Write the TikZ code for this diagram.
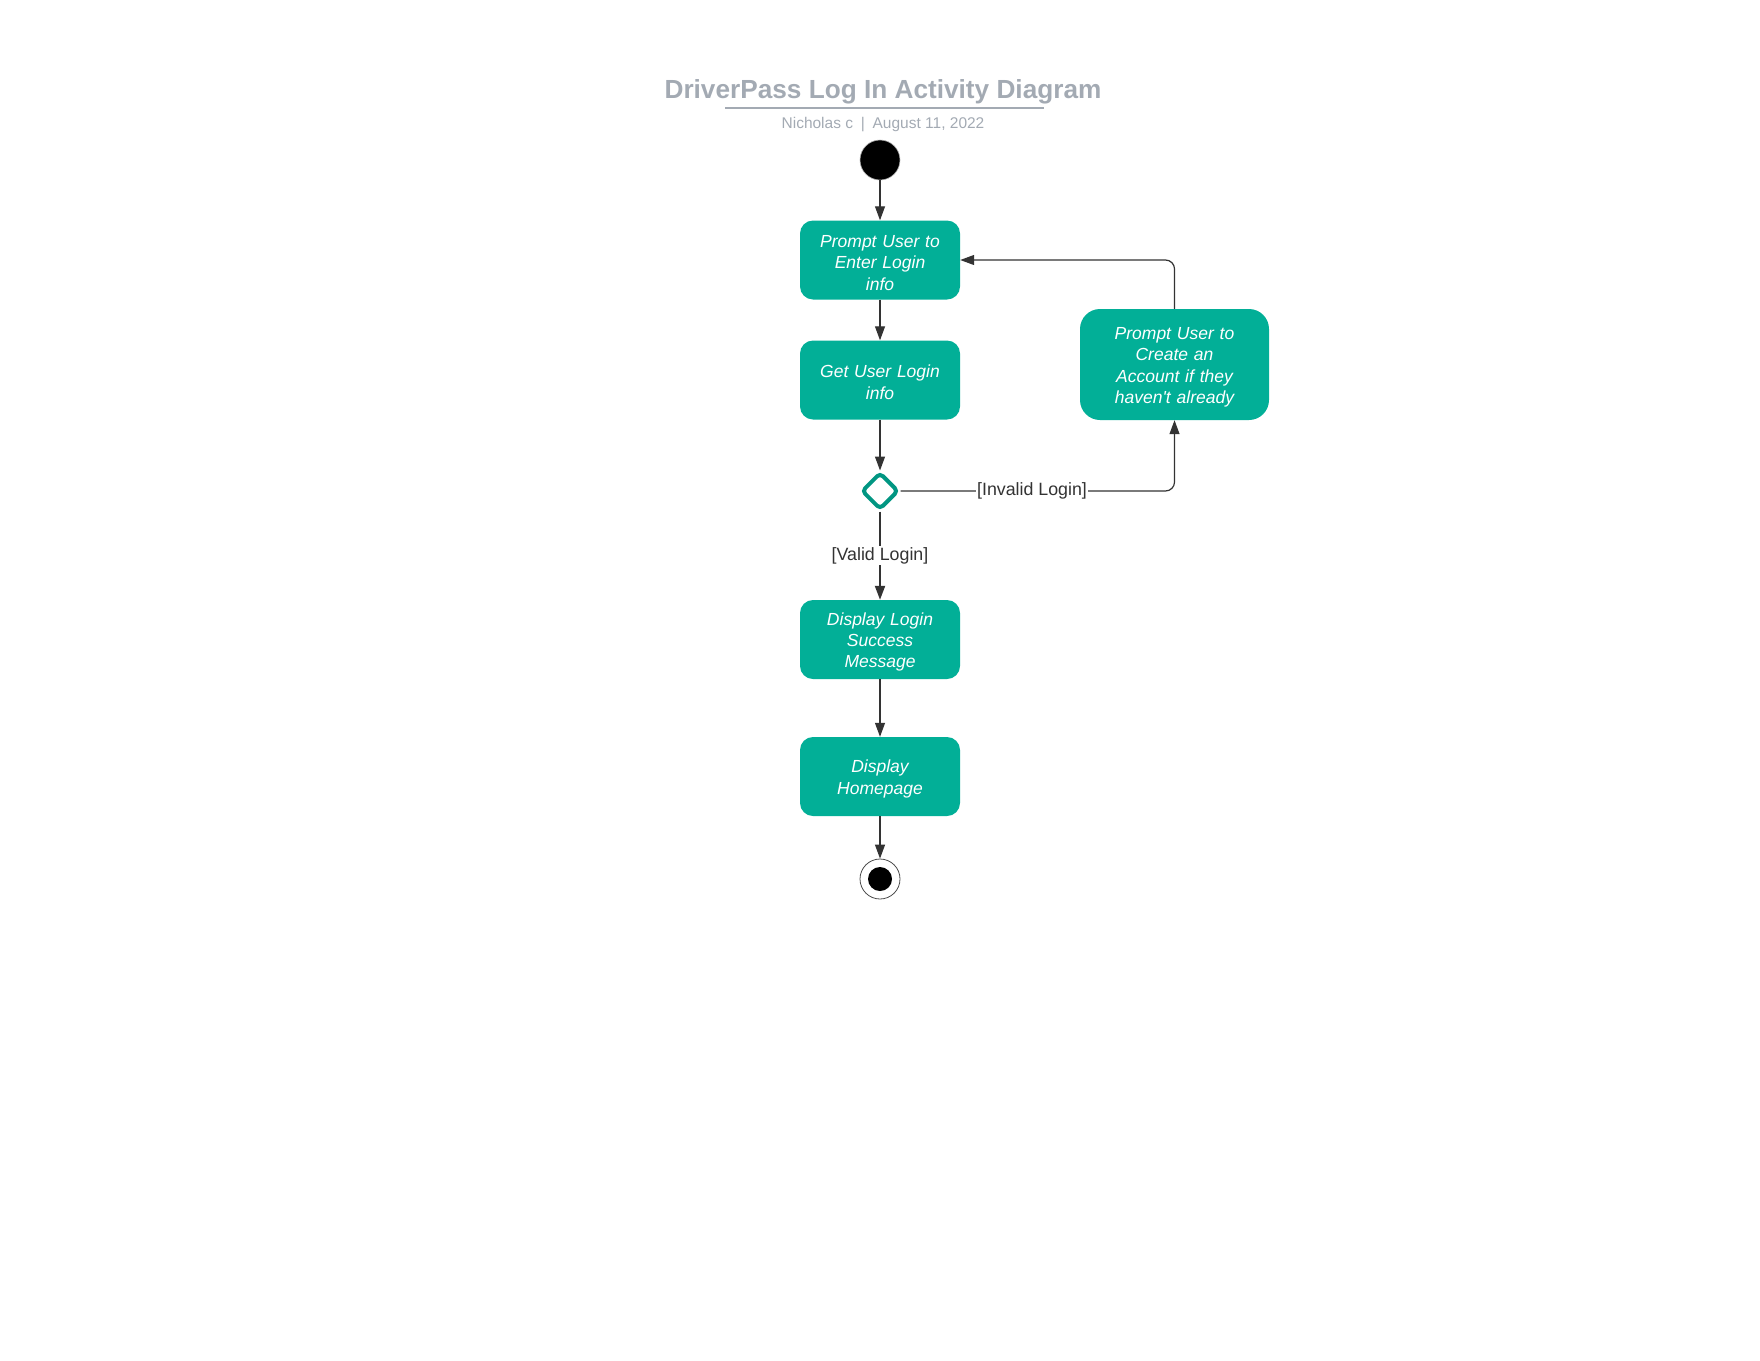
\documentclass[tikz,border=0pt]{standalone}
\usepackage{fontspec}
\setmainfont{Liberation Sans}
\usetikzlibrary{arrows.meta,shapes.geometric}
\definecolor{actfill}{HTML}{02AF97}
\definecolor{diastroke}{HTML}{019682}
\definecolor{wire}{HTML}{333333}
\definecolor{headgray}{HTML}{A3AAB3}
% invisible strut that adds a little room above the first line of a box
\newcommand\boxlead{\rule{0pt}{17.5pt}}
\begin{document}
\begin{tikzpicture}[x=1pt,y=-1pt,
  activity/.style={fill=actfill,draw=none,rounded corners=13pt,
    minimum width=160pt,minimum height=79pt,align=center,text width=150pt,
    text=white,font=\fontsize{17.5}{21.4}\selectfont\itshape},
  flow/.style={draw=wire,line width=1.2pt,-{Triangle[length=14pt,width=10pt]}},
  guard/.style={font=\fontsize{17.8}{21}\selectfont,text=wire,fill=white,inner sep=1pt}]
\useasboundingbox (0,0) rectangle (1760,1360);
% title block
\node[font=\fontsize{26.2}{30}\selectfont\bfseries,text=headgray] (title) at (883,91.5) {DriverPass Log In Activity Diagram};
\draw[headgray,line width=1.8pt] (725,108) -- (1044,108);
\node[font=\fontsize{15.5}{18}\selectfont,text=headgray] (sub) at (883,125) {Nicholas c\enspace|\enspace August 11, 2022};
% nodes
\node[circle,fill=black,draw=gray!60,line width=0.6pt,minimum size=40pt,inner sep=0pt] (start) at (880,160) {};
\node[activity] (prompt) at (880,260) {\boxlead Prompt User to\\Enter Login\\info};
\node[activity] (get) at (880,380) {\boxlead Get User Login\\info};
\node[activity,minimum width=189pt,minimum height=111pt,rounded corners=20pt,text width=175pt] (create) at (1174.5,364.5) {\boxlead Prompt User to\\Create an\\Account if they\\haven\textquotesingle t already};
\node[diamond,draw=diastroke,line width=4pt,rounded corners=4pt,fill=white,minimum width=37pt,minimum height=37pt,inner sep=0pt] (dec) at (880,491) {};
\node[activity] (success) at (880,639.5) {\boxlead Display Login\\Success\\Message};
\node[activity] (home) at (880,776.5) {\boxlead Display\\Homepage};
\node[circle,draw=black!70,line width=0.8pt,fill=white,minimum size=40pt,inner sep=0pt] (stop) at (880,879) {};
\node[circle,fill=black,minimum size=24pt,inner sep=0pt] (stopin) at (stop.center) {};
% connectors
\draw[flow] (start) -- (prompt);
\draw[flow] (prompt) -- (get);
\draw[flow] (get) -- (dec);
\draw[flow,line width=2pt] (dec) -- node[guard,pos=0.5] {[Valid Login]} (success);
\draw[flow] (success) -- (home);
\draw[flow] (home) -- (stop);
\draw[flow,rounded corners=9pt] (dec.east) -- node[guard,pos=0.48] {[Invalid Login]} (create.south |- dec.east) -- (create.south);
\draw[flow,rounded corners=9pt] (create.north) -- (create.north |- prompt.east) -- (prompt.east);
\end{tikzpicture}
\end{document}
